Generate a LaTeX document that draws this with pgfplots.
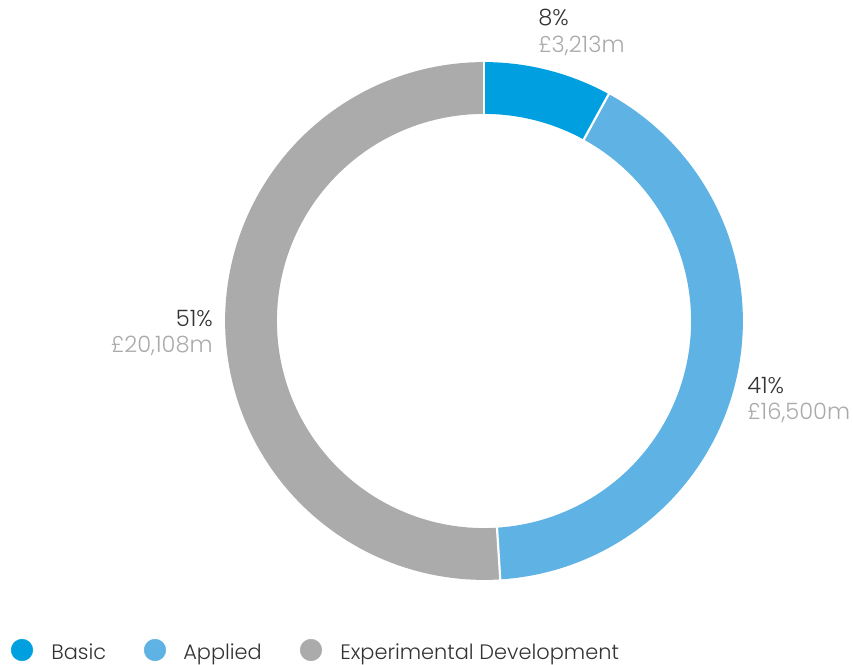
\documentclass[border=0pt]{standalone}
\usepackage{fontspec}
\setmainfont{Poppins Light}
\usepackage{pgfplots}
\pgfplotsset{compat=1.18}
\definecolor{cBasic}{HTML}{009FDF}
\definecolor{cApplied}{HTML}{5EB3E4}
\definecolor{cExp}{HTML}{ABABAB}
\definecolor{txtDark}{HTML}{333333}
\definecolor{txtGrey}{HTML}{AAAAAA}
% shares (%) as drawn; amounts GBP m: 3213, 16500, 20108
\def\pBasic{8}
\def\pApplied{41}
\def\pExp{51}
\edef\aA{\fpeval{round(360*\pBasic/(\pBasic+\pApplied+\pExp),3)}}
\edef\aB{\fpeval{round(360*(\pBasic+\pApplied)/(\pBasic+\pApplied+\pExp),3)}}
\begin{document}
\begin{tikzpicture}
\begin{axis}[
  width=8.53in, height=6.64in, scale only axis,
  xmin=0, xmax=853, ymin=0, ymax=664, y dir=reverse,
  axis lines=none, clip=false,
  every axis plot/.append style={samples=120},
]
\path (axis cs:0,0) rectangle (axis cs:853,664);
% ring segments: centre (484,321), mid radius 233, thickness 52
\addplot[cBasic, line width=37.44pt, line cap=butt, line join=round, domain=0:\aA, variable=\t]
  ({484+233*sin(t)},{321-233*cos(t)});
\addplot[cApplied, line width=37.44pt, line cap=butt, line join=round, domain=\aA:\aB, variable=\t]
  ({484+233*sin(t)},{321-233*cos(t)});
\addplot[cExp, line width=37.44pt, line cap=butt, line join=round, domain=\aB:360, variable=\t]
  ({484+233*sin(t)},{321-233*cos(t)});
% separators
\addplot[white, line width=1.6pt, samples=2, domain=204:262, variable=\r] ({484+r*sin(\aA)},{321-r*cos(\aA)});
\addplot[white, line width=1.6pt, samples=2, domain=204:262, variable=\r] ({484+r*sin(\aB)},{321-r*cos(\aB)});
\addplot[white, line width=1.6pt, samples=2, domain=204:262, variable=\r] ({484+r*sin(0)},{321-r*cos(0)});
% labels
\node[anchor=west, text=txtDark, font=\fontsize{16.3}{19}\selectfont, inner sep=0pt] at (axis cs:538,18) {8\%};
\node[anchor=west, text=txtGrey, font=\fontsize{16.3}{19}\selectfont, inner sep=0pt] at (axis cs:538,46) {£3,213m};
\node[anchor=west, text=txtDark, font=\fontsize{16.3}{19}\selectfont, inner sep=0pt] at (axis cs:747,386) {41\%};
\node[anchor=west, text=txtGrey, font=\fontsize{16.3}{19}\selectfont, inner sep=0pt] at (axis cs:747,413) {£16,500m};
\node[anchor=east, text=txtDark, font=\fontsize{16.3}{19}\selectfont, inner sep=0pt] at (axis cs:213,319) {51\%};
\node[anchor=east, text=txtGrey, font=\fontsize{16.3}{19}\selectfont, inner sep=0pt] at (axis cs:213,346) {£20,108m};
% legend
\addplot[only marks, mark=*, mark size=7.8pt, cBasic, mark options={draw=cBasic, fill=cBasic}] coordinates {(22,650)};
\addplot[only marks, mark=*, mark size=7.8pt, cApplied, mark options={draw=cApplied, fill=cApplied}] coordinates {(155,650)};
\addplot[only marks, mark=*, mark size=7.8pt, cExp, mark options={draw=cExp, fill=cExp}] coordinates {(311,650)};
\node[anchor=base west, text=txtDark, font=\fontsize{15.1}{18}\selectfont, inner sep=0pt] at (axis cs:51,659) {Basic};
\node[anchor=base west, text=txtDark, font=\fontsize{15.1}{18}\selectfont, inner sep=0pt] at (axis cs:183,659) {Applied};
\node[anchor=base west, text=txtDark, font=\fontsize{15.1}{18}\selectfont, inner sep=0pt] at (axis cs:340,659) {Experimental Development};
\end{axis}
\end{tikzpicture}
\end{document}
